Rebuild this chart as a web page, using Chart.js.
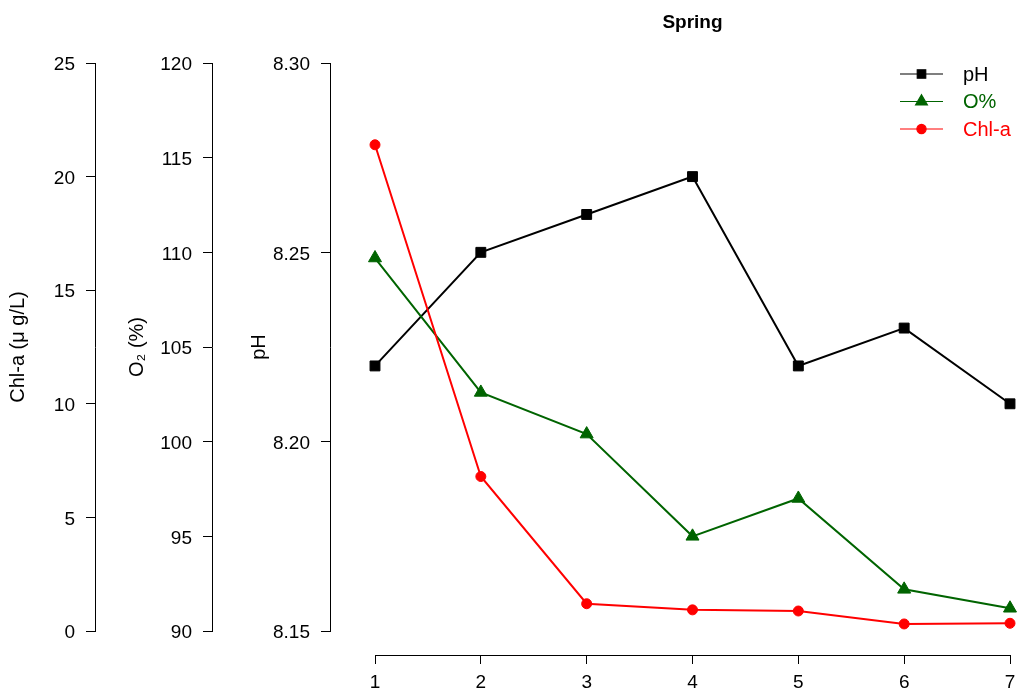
<!DOCTYPE html>
<html>
<head>
<meta charset="utf-8">
<title>Spring</title>
<script src="https://cdn.jsdelivr.net/npm/chart.js@4.4.1/dist/chart.umd.min.js"></script>
<style>
  html, body { margin: 0; padding: 0; background: #ffffff; }
  #wrap { width: 1025px; height: 695px; }
</style>
</head>
<body>
<div id="wrap"><canvas id="chart"></canvas></div>
<script>
// Sampling stations along the x axis
const stations = [1, 2, 3, 4, 5, 6, 7];

// Measured series
const pHValues = [8.220, 8.250, 8.260, 8.270, 8.220, 8.230, 8.210];
const oxygenValues = [109.7, 102.6, 100.4, 95.0, 97.0, 92.2, 91.2];
const chlaValues = [21.4, 6.8, 1.2, 0.93, 0.88, 0.31, 0.34];

// Series names as shown in the legend
const seriesNames = ['pH', 'O%', 'Chl-a'];

// Tick values for each axis
const stationTicks = [1, 2, 3, 4, 5, 6, 7];
const pHTicks = [8.15, 8.20, 8.25, 8.30];
const oxygenTicks = [90, 95, 100, 105, 110, 115, 120];
const chlaTicks = [0, 5, 10, 15, 20, 25];

const FONT = '"Liberation Sans", Arial, Helvetica, sans-serif';
Chart.defaults.font.family = FONT;
Chart.defaults.color = '#000000';

const toPoints = values => stations.map((s, i) => ({ x: s, y: values[i] }));
const useTicks = list => scale => { scale.ticks = list.map(v => ({ value: v })); };

// Draws the line+marker legend in the upper right of the plot
const lineLegend = {
  id: 'lineLegend',
  afterDraw(chart) {
    const { ctx, chartArea } = chart;
    const lineStart = chartArea.right - 110;
    const lineEnd = chartArea.right - 67;
    const mid = (lineStart + lineEnd) / 2;
    const textX = chartArea.right - 47;
    const markerSizes = [6, 6.8, 4.6];
    ctx.save();
    ctx.font = '20px ' + FONT;
    ctx.textBaseline = 'middle';
    ctx.textAlign = 'left';
    chart.data.datasets.forEach((ds, i) => {
      const y = chartArea.top + 11 + i * 27.5;
      ctx.strokeStyle = ds.borderColor;
      ctx.fillStyle = ds.borderColor;
      ctx.lineWidth = 1.2;
      ctx.beginPath();
      ctx.moveTo(lineStart, y);
      ctx.lineTo(lineEnd, y);
      ctx.stroke();
      Chart.helpers.drawPoint(ctx, {
        pointStyle: ds.pointStyle, rotation: 0, radius: markerSizes[i], borderWidth: 1
      }, mid, y);
      ctx.fillText(ds.label, textX, y + 1);
    });
    ctx.restore();
  }
};

const tickGrid = {
  display: true,
  drawOnChartArea: false,
  drawTicks: true,
  tickLength: 9,
  color: '#000000',
  lineWidth: 1
};
const axisBorder = { display: true, color: '#000000', width: 1 };

new Chart(document.getElementById('chart'), {
  type: 'line',
  data: {
    datasets: [
      {
        label: seriesNames[0],
        data: toPoints(pHValues),
        xAxisID: 'x', yAxisID: 'ypH',
        borderColor: '#000000', backgroundColor: '#000000',
        pointBackgroundColor: '#000000', pointBorderColor: '#000000',
        borderWidth: 2, pointStyle: 'rect', pointRadius: 7, pointBorderWidth: 1,
        tension: 0, clip: false, order: 2
      },
      {
        label: seriesNames[1],
        data: toPoints(oxygenValues),
        xAxisID: 'x', yAxisID: 'yO2',
        borderColor: '#006400', backgroundColor: '#006400',
        pointBackgroundColor: '#006400', pointBorderColor: '#006400',
        borderWidth: 2, pointStyle: 'triangle', pointRadius: 7.5, pointBorderWidth: 1,
        tension: 0, clip: false, order: 1
      },
      {
        label: seriesNames[2],
        data: toPoints(chlaValues),
        xAxisID: 'x', yAxisID: 'yChl',
        borderColor: '#ff0000', backgroundColor: '#ff0000',
        pointBackgroundColor: '#ff0000', pointBorderColor: '#ff0000',
        borderWidth: 2, pointStyle: 'circle', pointRadius: 5, pointBorderWidth: 1,
        tension: 0, clip: false, order: 0
      }
    ]
  },
  options: {
    responsive: true,
    maintainAspectRatio: false,
    animation: false,
    events: [],
    layout: { padding: { left: 0, right: 15, top: 0, bottom: 0 } },
    plugins: {
      legend: { display: false },
      tooltip: { enabled: false },
      title: {
        display: true,
        text: 'Spring',
        fullSize: false,
        color: '#000000',
        font: { size: 19, weight: 'bold', family: FONT },
        padding: { top: 11, bottom: 29.2 }
      }
    },
    scales: {
      x: {
        type: 'linear', axis: 'x', position: 'bottom', weight: 1,
        min: 1, max: 7,
        afterBuildTicks: useTicks(stationTicks),
        afterFit: s => { s.height = 40; },
        grid: tickGrid,
        border: axisBorder,
        ticks: { font: { size: 19 }, color: '#000000', padding: 7, maxRotation: 0, autoSkip: false }
      },
      xPad: {
        type: 'linear', axis: 'x', position: 'bottom', weight: 0,
        afterFit: s => { s.height = 24; },
        grid: { display: false }, border: { display: false }, ticks: { display: false }
      },
      yPad: {
        type: 'linear', axis: 'y', position: 'left', weight: 0,
        afterFit: s => { s.width = 45; },
        grid: { display: false }, border: { display: false }, ticks: { display: false }
      },
      ypH: {
        type: 'linear', axis: 'y', position: 'left', weight: 1,
        min: 8.15, max: 8.30,
        afterBuildTicks: useTicks(pHTicks),
        afterFit: s => { s.width = 118; },
        grid: tickGrid,
        border: axisBorder,
        ticks: { font: { size: 19 }, color: '#000000', padding: 11, labelOffset: 2, callback: v => Number(v).toFixed(2) },
        title: { display: true, text: 'pH', color: '#000000', font: { size: 20 }, padding: { top: 35.5, bottom: 0 } }
      },
      yO2: {
        type: 'linear', axis: 'y', position: 'left', weight: 2,
        min: 90, max: 120,
        afterBuildTicks: useTicks(oxygenTicks),
        afterFit: s => { s.width = 117; },
        grid: tickGrid,
        border: axisBorder,
        ticks: { font: { size: 19 }, color: '#000000', padding: 11, labelOffset: 2, callback: v => String(v) },
        title: { display: true, text: 'O\u2082 (%)', color: '#000000', font: { size: 20 }, padding: { top: 30, bottom: 0 } }
      },
      yChl: {
        type: 'linear', axis: 'y', position: 'left', weight: 3,
        min: 0, max: 25,
        afterBuildTicks: useTicks(chlaTicks),
        afterFit: s => { s.width = 95; },
        grid: tickGrid,
        border: axisBorder,
        ticks: { font: { size: 19 }, color: '#000000', padding: 11, labelOffset: 2, callback: v => String(v) },
        title: { display: true, text: 'Chl-a (\u03bc g/L)', color: '#000000', font: { size: 20 }, padding: { top: 6, bottom: 0 } }
      }
    }
  },
  plugins: [lineLegend]
});
</script>
</body>
</html>
